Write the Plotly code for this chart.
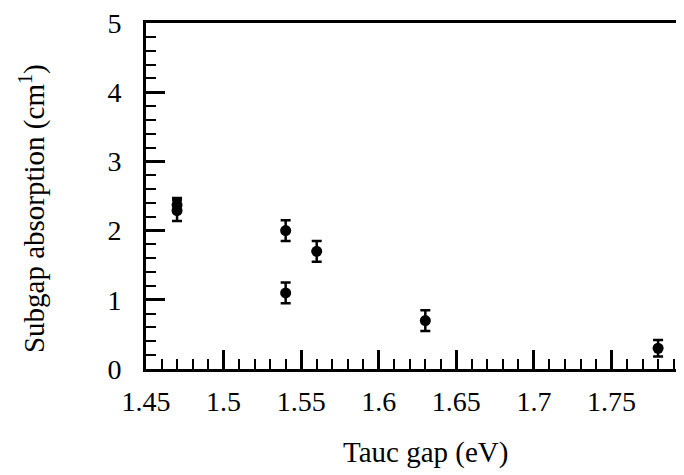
import plotly.graph_objects as go

tauc_gap = [1.47, 1.47, 1.54, 1.54, 1.56, 1.63, 1.78]
subgap_abs = [2.37, 2.29, 2.0, 1.1, 1.7, 0.7, 0.3]
err = [0.10, 0.15, 0.15, 0.15, 0.15, 0.15, 0.12]

x_ticks = [1.45, 1.5, 1.55, 1.6, 1.65, 1.7, 1.75, 1.8]
x_tick_labels = ["1.45", "1.5", "1.55", "1.6", "1.65", "1.7", "1.75", "1.8"]
y_ticks = [0, 1, 2, 3, 4, 5]
x_title = "Tauc gap (eV)"
y_title = "Subgap absorption (cm<sup>1</sup>)"

FONT = "Liberation Serif"

fig = go.Figure()
fig.add_trace(go.Scatter(
    x=tauc_gap, y=subgap_abs, mode="markers",
    marker=dict(color="black", size=11),
    error_y=dict(type="data", array=err, color="black", thickness=2.5, width=5),
    showlegend=False,
))

# page body has an 8px default margin, so the figure is sized to fit the window
fig.update_layout(
    width=676, height=467,
    margin=dict(l=138, r=0, t=15, b=106),
    paper_bgcolor="white", plot_bgcolor="white",
    font=dict(family=FONT, color="black", size=28),
)
fig.update_xaxes(
    range=[1.45, 1.7967],
    tickvals=x_ticks, ticktext=x_tick_labels,
    ticks="inside", ticklen=19, tickwidth=2.5, tickcolor="black",
    minor=dict(dtick=0.01, tick0=1.45, ticks="inside", ticklen=10, tickwidth=2.2, tickcolor="black"),
    showline=True, linecolor="black", linewidth=3, mirror=True,
    showgrid=False, zeroline=False,
    tickfont=dict(family=FONT, size=28),
    ticklabelstandoff=5, ticklabeloverflow="allow",
)
fig.update_yaxes(
    range=[0, 5],
    tickvals=y_ticks,
    ticks="inside", ticklen=19, tickwidth=2.5, tickcolor="black",
    minor=dict(dtick=0.2, tick0=0, ticks="inside", ticklen=10, tickwidth=2.2, tickcolor="black"),
    showline=True, linecolor="black", linewidth=3, mirror=False,
    showgrid=False, zeroline=False,
    tickfont=dict(family=FONT, size=28),
    ticklabelstandoff=16, ticklabeloverflow="allow",
)
fig.add_annotation(
    text=x_title, xref="paper", yref="paper", x=0.519, y=-0.24,
    xanchor="center", yanchor="middle", showarrow=False,
    font=dict(family=FONT, size=29, color="black"),
)
fig.add_annotation(
    text=y_title, xref="paper", yref="paper", x=-0.212, y=0.465,
    xanchor="center", yanchor="middle", showarrow=False, textangle=-90,
    font=dict(family=FONT, size=29, color="black"),
)

fig.write_html("out.html")
